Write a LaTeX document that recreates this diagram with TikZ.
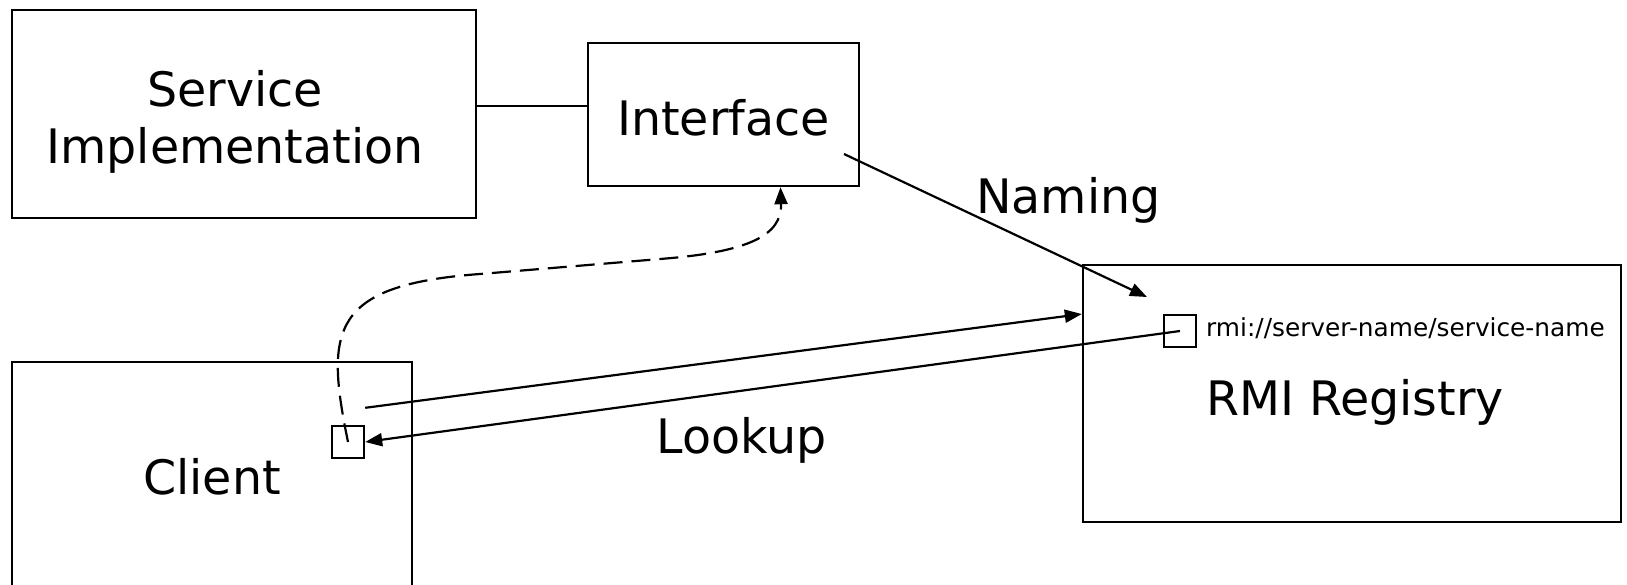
\documentclass[tikz,border=0pt]{standalone}
\usepackage{fontspec}
\setmainfont{DejaVu Sans}
\usetikzlibrary{arrows.meta}

\begin{document}
\begin{tikzpicture}[x=1pt, y=-1pt,
	box/.style={draw, line width=2.4pt, inner sep=0},
	tag/.style={anchor=base, inner sep=0, font=\fontsize{47.5}{57}\selectfont},
	urltag/.style={anchor=base west, inner sep=0, font=\fontsize{24.8}{30}\selectfont},
	link/.style={line width=2.2pt},
	flow/.style={line width=2.2pt, -{Triangle[length=17pt,width=13pt]}},
	fetch/.style={flow, dash pattern=on 19pt off 9pt}
	]
	\clip (0,0) rectangle (1627,584);

	% boxes
	\node (implbox) at (244,114) [box, minimum width=464pt, minimum height=208pt] {};
	\node (iface) at (723.5,114.5) [box, minimum width=271pt, minimum height=143pt] {};
	\node (client) at (212,501) [box, minimum width=400pt, minimum height=278pt] {};
	\node (rmi) at (1352,393.5) [box, minimum width=538pt, minimum height=257pt] {};
	\node (clsq) at (348,442) [box, minimum size=32pt] {};
	\node (regsq) at (1180,331) [box, minimum size=32pt] {};

	% texts
	\node (svc) at (235,106) [tag] {Service};
	\node (impl) at (235,163) [tag] {Implementation};
	\node (ifacetxt) at (723.5,135) [tag] {Interface};
	\node (clienttxt) at (212,494) [tag] {Client};
	\node (rmitxt) at (1355,415) [tag] {RMI Registry};
	\node (naming) at (1068.5,213) [tag] {Naming};
	\node (lookup) at (741.5,453) [tag] {Lookup};
	\node (url) at (1206,336) [urltag] {rmi://server-name/service-name};

	\coordinate (nm-a) at (844,154);
	\coordinate (nm-b) at (1147,297);

	% connectors
	\draw [link] ([yshift=8pt]implbox.east) -- ([yshift=8.5pt]iface.west);
	\draw [flow] (nm-a) -- (nm-b);
	\draw [flow] ([yshift=17pt]clsq.north east) -- ([yshift=79.5pt]rmi.west);
	\draw [flow] (regsq.center) -- (clsq.east);
	\draw [fetch] (clsq.center) .. controls (325,330) and (330,285) .. (480,274)
		-- (660,259) .. controls (750,252) and (782,235) .. ([xshift=57pt]iface.south);
\end{tikzpicture}
\end{document}
